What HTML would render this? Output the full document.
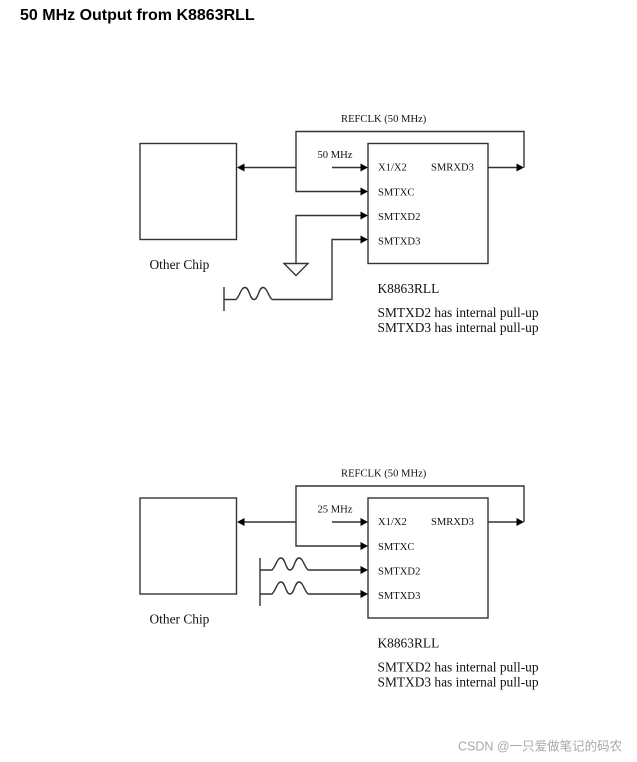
<!DOCTYPE html>
<html><head><meta charset="utf-8"><style>
html,body{margin:0;padding:0;background:#fff}
svg{display:block}
text{font-family:"Liberation Serif",serif;fill:#111}
.s{font-size:10.6px}
.m{font-size:13.4px}
</style></head><body>
<svg width="637" height="762" viewBox="0 0 637 762" xmlns="http://www.w3.org/2000/svg">
<defs>
<g id="d">
<g fill="none" stroke="#333" stroke-width="1.4">
<rect x="140" y="143.5" width="96.5" height="96"/>
<rect x="368" y="143.5" width="120" height="120"/>
<path d="M296 167.5V131.5H524V167.5"/>
<path d="M488 167.5H518"/>
<path d="M296 167.5H242M296 167.5V191.5H362"/>
<path d="M332 167.5H362"/>
</g>
<g fill="#000">
<path d="M237 167.500l7.500-4v8z"/>
<path d="M368 167.500l-7.500-4v8z"/>
<path d="M368 191.500l-7.500-4v8z"/>
<path d="M524 167.500l-7.500-4v8z"/>
</g>
<text class="s" x="341" y="122">REFCLK (50 MHz)</text>
<text class="s" x="378" y="170.500">X1/X2</text>
<text class="s" x="431" y="170.500">SMRXD3</text>
<text class="s" x="378" y="195.500">SMTXC</text>
<text class="s" x="378" y="220">SMTXD2</text>
<text class="s" x="378" y="244.500">SMTXD3</text>
<text class="m" x="149.500" y="269">Other Chip</text>
<text class="m" x="377.500" y="293">K8863RLL</text>
<text class="m" x="377.500" y="317">SMTXD2 has internal pull-up</text>
<text class="m" x="377.500" y="332">SMTXD3 has internal pull-up</text>
</g>
<path id="w" d="M0 0H12C16-4 17-12 21-12C25.500-12 25.500 0 30 0C34.500 0 34.500-12 39-12C43-12 44-4 48 0" fill="none" stroke="#333" stroke-width="1.400"/>
</defs>

<text x="20" y="20" style="font-family:'Liberation Sans',sans-serif;font-size:16px;font-weight:bold;fill:#000">50 MHz Output from K8863RLL</text>

<use href="#d"/>
<text class="s" x="317.500" y="158">50 MHz</text>
<g fill="none" stroke="#333" stroke-width="1.400">
<path d="M296 264V215.500H362"/>
<path d="M284 263.500H308L296 275.500Z"/>
<path d="M272 299.500H332V239.500H362"/>
<path d="M224 287V311"/>
</g>
<use href="#w" x="224" y="299.500"/>
<path d="M368 215.500l-7.500-4v8zM368 239.500l-7.500-4v8z" fill="#000"/>

<use href="#d" y="354.500"/>
<text class="s" x="317.500" y="512.500">25 MHz</text>
<g fill="none" stroke="#333" stroke-width="1.400">
<path d="M260 558V606"/>
<path d="M308 570H362M308 594H362"/>
</g>
<use href="#w" x="260" y="570"/>
<use href="#w" x="260" y="594"/>
<path d="M368 570l-7.500-4v8zM368 594l-7.500-4v8z" fill="#000"/>

<text x="458" y="750.500" style="font-family:'Liberation Sans','Noto Sans CJK SC',sans-serif;font-size:12.500px;fill:#a8a8a8">CSDN @一只爱做笔记的码农</text>
</svg>
</body></html>
